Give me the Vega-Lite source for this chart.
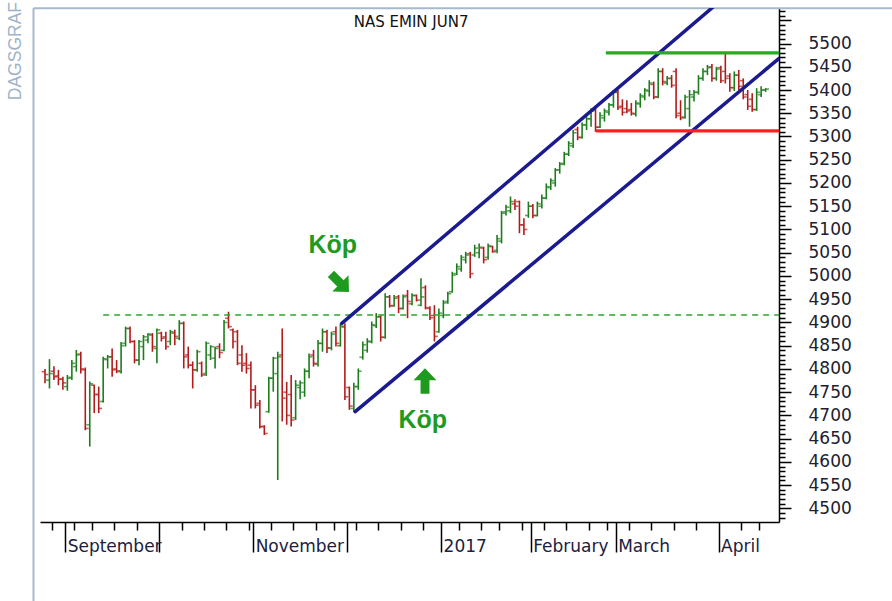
{
  "$schema": "https://vega.github.io/schema/vega-lite/v6.json",
  "width": 739,
  "height": 514,
  "autosize": {"type": "none"},
  "padding": {"left": 40, "top": 8, "right": 113, "bottom": 79},
  "background": "white",
  "config": {"view": {"stroke": null}, "font": "DejaVu Sans"},
  "title": {"text": "DAGSGRAF", "orient": "left", "anchor": "end", "color": "#9fb3c8", "fontSize": 17.5, "fontWeight": "normal", "font": "Liberation Sans", "offset": 8},
  "datasets": {
    "bars": [
      {"d":0,"o":4794,"h":4800,"l":4769,"c":4788},{"d":1,"o":4776,"h":4821,"l":4758,"c":4790},{"d":2,"o":4795,"h":4806,"l":4776,"c":4783},{"d":3,"o":4785,"h":4798,"l":4765,"c":4778},{"d":4,"o":4778,"h":4783,"l":4755,"c":4770},{"d":5,"o":4762,"h":4787,"l":4753,"c":4780},{"d":6,"o":4782,"h":4819,"l":4776,"c":4812},{"d":7,"o":4805,"h":4841,"l":4794,"c":4830},{"d":8,"o":4832,"h":4837,"l":4790,"c":4800},{"d":9,"o":4798,"h":4803,"l":4668,"c":4672},
      {"d":10,"o":4680,"h":4773,"l":4633,"c":4768},{"d":11,"o":4765,"h":4766,"l":4705,"c":4745},{"d":12,"o":4745,"h":4762,"l":4705,"c":4715},{"d":13,"o":4730,"h":4826,"l":4728,"c":4822},{"d":14,"o":4820,"h":4830,"l":4801,"c":4826},{"d":15,"o":4826,"h":4844,"l":4783,"c":4798},{"d":16,"o":4800,"h":4819,"l":4791,"c":4796},{"d":17,"o":4794,"h":4858,"l":4790,"c":4850},{"d":18,"o":4855,"h":4891,"l":4848,"c":4887},{"d":19,"o":4887,"h":4891,"l":4855,"c":4859},
      {"d":20,"o":4859,"h":4862,"l":4812,"c":4819},{"d":21,"o":4819,"h":4862,"l":4808,"c":4859},{"d":22,"o":4848,"h":4873,"l":4819,"c":4869},{"d":23,"o":4862,"h":4877,"l":4855,"c":4875},{"d":24,"o":4873,"h":4877,"l":4837,"c":4848},{"d":25,"o":4844,"h":4887,"l":4812,"c":4884},{"d":26,"o":4877,"h":4880,"l":4859,"c":4866},{"d":27,"o":4869,"h":4880,"l":4841,"c":4848},{"d":28,"o":4859,"h":4884,"l":4851,"c":4880},{"d":29,"o":4877,"h":4884,"l":4851,"c":4870},
      {"d":30,"o":4866,"h":4905,"l":4862,"c":4898},{"d":31,"o":4898,"h":4902,"l":4801,"c":4826},{"d":32,"o":4830,"h":4848,"l":4801,"c":4808},{"d":33,"o":4808,"h":4816,"l":4758,"c":4798},{"d":34,"o":4798,"h":4841,"l":4794,"c":4837},{"d":35,"o":4812,"h":4816,"l":4783,"c":4787},{"d":36,"o":4790,"h":4859,"l":4785,"c":4855},{"d":37,"o":4830,"h":4851,"l":4819,"c":4848},{"d":38,"o":4823,"h":4848,"l":4801,"c":4844},{"d":39,"o":4848,"h":4855,"l":4823,"c":4835},
      {"d":40,"o":4840,"h":4905,"l":4838,"c":4900},{"d":41,"o":4909,"h":4923,"l":4887,"c":4891},{"d":42,"o":4884,"h":4887,"l":4844,"c":4859},{"d":43,"o":4880,"h":4884,"l":4808,"c":4812},{"d":44,"o":4830,"h":4851,"l":4794,"c":4808},{"d":45,"o":4812,"h":4834,"l":4790,"c":4801},{"d":46,"o":4808,"h":4816,"l":4715,"c":4755},{"d":47,"o":4755,"h":4765,"l":4715,"c":4722},{"d":48,"o":4726,"h":4733,"l":4672,"c":4676},{"d":49,"o":4676,"h":4679,"l":4658,"c":4661},
      {"d":50,"o":4708,"h":4783,"l":4706,"c":4780},{"d":51,"o":4780,"h":4826,"l":4751,"c":4823},{"d":52,"o":4790,"h":4837,"l":4561,"c":4826},{"d":53,"o":4830,"h":4887,"l":4687,"c":4737},{"d":54,"o":4750,"h":4772,"l":4680,"c":4700},{"d":55,"o":4745,"h":4787,"l":4676,"c":4690},{"d":56,"o":4695,"h":4776,"l":4690,"c":4765},{"d":57,"o":4760,"h":4775,"l":4735,"c":4770},{"d":58,"o":4750,"h":4801,"l":4740,"c":4795},{"d":59,"o":4795,"h":4833,"l":4780,"c":4826},
      {"d":60,"o":4830,"h":4841,"l":4805,"c":4812},{"d":61,"o":4810,"h":4862,"l":4805,"c":4855},{"d":62,"o":4855,"h":4887,"l":4837,"c":4880},{"d":63,"o":4880,"h":4884,"l":4834,"c":4845},{"d":64,"o":4845,"h":4880,"l":4840,"c":4875},{"d":65,"o":4880,"h":4891,"l":4848,"c":4855},{"d":66,"o":4850,"h":4898,"l":4848,"c":4892},{"d":67,"o":4890,"h":4898,"l":4733,"c":4740},{"d":68,"o":4760,"h":4762,"l":4712,"c":4720},{"d":69,"o":4715,"h":4770,"l":4708,"c":4762},
      {"d":70,"o":4762,"h":4801,"l":4755,"c":4795},{"d":71,"o":4825,"h":4859,"l":4820,"c":4852},{"d":72,"o":4840,"h":4866,"l":4835,"c":4860},{"d":73,"o":4858,"h":4902,"l":4855,"c":4895},{"d":74,"o":4893,"h":4920,"l":4888,"c":4912},{"d":75,"o":4912,"h":4916,"l":4859,"c":4868},{"d":76,"o":4868,"h":4963,"l":4865,"c":4955},{"d":77,"o":4955,"h":4959,"l":4932,"c":4936},{"d":78,"o":4936,"h":4959,"l":4934,"c":4952},{"d":79,"o":4955,"h":4959,"l":4920,"c":4930},
      {"d":80,"o":4930,"h":4960,"l":4928,"c":4955},{"d":81,"o":4958,"h":4970,"l":4909,"c":4945},{"d":82,"o":4940,"h":4963,"l":4937,"c":4958},{"d":83,"o":4958,"h":4960,"l":4945,"c":4948},{"d":84,"o":4937,"h":4995,"l":4935,"c":4955},{"d":85,"o":4975,"h":4980,"l":4928,"c":4932},{"d":86,"o":4930,"h":4935,"l":4905,"c":4910},{"d":87,"o":4915,"h":4937,"l":4859,"c":4870},{"d":88,"o":4880,"h":4930,"l":4878,"c":4920},{"d":89,"o":4915,"h":4948,"l":4909,"c":4942},
      {"d":90,"o":4945,"h":4966,"l":4940,"c":4962},{"d":91,"o":4966,"h":5009,"l":4964,"c":5002},{"d":92,"o":5005,"h":5027,"l":5002,"c":5020},{"d":93,"o":5015,"h":5045,"l":5009,"c":5040},{"d":94,"o":5035,"h":5052,"l":5027,"c":5045},{"d":95,"o":5048,"h":5052,"l":4995,"c":5005},{"d":96,"o":5045,"h":5067,"l":5041,"c":5060},{"d":97,"o":5050,"h":5070,"l":5038,"c":5062},{"d":98,"o":5060,"h":5063,"l":5027,"c":5035},{"d":99,"o":5040,"h":5070,"l":5035,"c":5065},
      {"d":100,"o":5063,"h":5065,"l":5050,"c":5052},{"d":101,"o":5055,"h":5088,"l":5049,"c":5080},{"d":102,"o":5075,"h":5140,"l":5070,"c":5135},{"d":103,"o":5138,"h":5153,"l":5130,"c":5148},{"d":104,"o":5140,"h":5171,"l":5135,"c":5160},{"d":105,"o":5155,"h":5165,"l":5142,"c":5150},{"d":106,"o":5160,"h":5162,"l":5092,"c":5110},{"d":107,"o":5110,"h":5124,"l":5088,"c":5100},{"d":108,"o":5130,"h":5160,"l":5125,"c":5150},{"d":109,"o":5150,"h":5155,"l":5124,"c":5130},
      {"d":110,"o":5130,"h":5160,"l":5128,"c":5155},{"d":111,"o":5150,"h":5175,"l":5145,"c":5168},{"d":112,"o":5167,"h":5199,"l":5165,"c":5192},{"d":113,"o":5190,"h":5210,"l":5185,"c":5205},{"d":114,"o":5200,"h":5232,"l":5192,"c":5228},{"d":115,"o":5228,"h":5245,"l":5220,"c":5240},{"d":116,"o":5242,"h":5267,"l":5238,"c":5262},{"d":117,"o":5262,"h":5290,"l":5258,"c":5285},{"d":118,"o":5280,"h":5314,"l":5275,"c":5308},{"d":119,"o":5315,"h":5321,"l":5292,"c":5298},
      {"d":120,"o":5298,"h":5330,"l":5295,"c":5325},{"d":121,"o":5325,"h":5343,"l":5314,"c":5338},{"d":122,"o":5338,"h":5361,"l":5321,"c":5355},{"d":123,"o":5357,"h":5361,"l":5310,"c":5320},{"d":124,"o":5320,"h":5352,"l":5318,"c":5345},{"d":125,"o":5340,"h":5360,"l":5332,"c":5355},{"d":126,"o":5352,"h":5372,"l":5345,"c":5368},{"d":127,"o":5368,"h":5400,"l":5362,"c":5395},{"d":128,"o":5395,"h":5400,"l":5357,"c":5362},{"d":129,"o":5365,"h":5380,"l":5345,"c":5352},
      {"d":130,"o":5360,"h":5378,"l":5350,"c":5355},{"d":131,"o":5358,"h":5372,"l":5345,"c":5350},{"d":132,"o":5348,"h":5378,"l":5343,"c":5372},{"d":133,"o":5370,"h":5393,"l":5362,"c":5388},{"d":134,"o":5385,"h":5404,"l":5378,"c":5400},{"d":135,"o":5398,"h":5421,"l":5386,"c":5415},{"d":136,"o":5412,"h":5418,"l":5380,"c":5385},{"d":137,"o":5385,"h":5447,"l":5382,"c":5440},{"d":138,"o":5440,"h":5447,"l":5410,"c":5418},{"d":139,"o":5415,"h":5430,"l":5410,"c":5425},
      {"d":140,"o":5425,"h":5432,"l":5405,"c":5410},{"d":141,"o":5440,"h":5447,"l":5339,"c":5345},{"d":142,"o":5350,"h":5378,"l":5335,"c":5340},{"d":143,"o":5342,"h":5390,"l":5338,"c":5385},{"d":144,"o":5360,"h":5400,"l":5321,"c":5390},{"d":145,"o":5385,"h":5400,"l":5375,"c":5395},{"d":146,"o":5395,"h":5432,"l":5390,"c":5425},{"d":147,"o":5425,"h":5447,"l":5420,"c":5440},{"d":148,"o":5440,"h":5454,"l":5432,"c":5448},{"d":149,"o":5450,"h":5456,"l":5418,"c":5425},
      {"d":150,"o":5425,"h":5450,"l":5420,"c":5445},{"d":151,"o":5448,"h":5452,"l":5415,"c":5420},{"d":152,"o":5440,"h":5479,"l":5414,"c":5425},{"d":153,"o":5430,"h":5436,"l":5396,"c":5405},{"d":154,"o":5405,"h":5440,"l":5398,"c":5432},{"d":155,"o":5432,"h":5443,"l":5400,"c":5408},{"d":156,"o":5420,"h":5425,"l":5380,"c":5385},{"d":157,"o":5390,"h":5400,"l":5357,"c":5365},{"d":158,"o":5380,"h":5393,"l":5353,"c":5358},{"d":159,"o":5358,"h":5404,"l":5355,"c":5395},
      {"d":160,"o":5390,"h":5408,"l":5385,"c":5400},{"d":161,"o":5400,"h":5404,"l":5396,"c":5402}
    ],
    "channel": [
      {"line": "upper", "d1": 66.3, "v1": 4898, "d2": 152, "v2": 5601},
      {"line": "lower", "d1": 69.3, "v1": 4708, "d2": 164, "v2": 5468}
    ],
    "levels": [
      {"name": "resistance", "d1": 125.3, "d2": 164, "v": 5480},
      {"name": "support", "d1": 123.1, "d2": 164, "v": 5312}
    ],
    "breakout": [{"d1": 13, "d2": 164, "v": 4916}],
    "notes": [
      {"label": "Köp", "d": 64.3, "v": 5066},
      {"label": "Köp", "d": 84.4, "v": 4690}
    ],
    "arrows": [
      {"dir": "down-right", "d": 65.9, "v": 4985},
      {"dir": "up", "d": 84.9, "v": 4774}
    ]
  },
  "layer": [
    {
      "data": {"name": "bars"},
      "mark": {"type": "rule", "strokeWidth": 1.6},
      "encoding": {
        "x": {"field": "d", "type": "quantitative", "scale": {"domain": [-1.117, 163.99], "nice": false, "zero": false},
          "axis": {
            "title": null, "orient": "bottom", "grid": false, "tickCount": 500,
            "values": [1.5,4.5,6.5,10.5,15.5,20.5,25.5,30.5,35.5,40.5,45.5,46.5,50.5,55.5,60.5,64.5,67.5,69.5,74.5,79.5,84.5,88.5,92.5,97.5,101.5,106.5,108.5,111.5,116.5,121.5,125.5,127.5,130.5,135.5,140.5,145.5,150.5,155.5,159.5],
            "domainColor": "#000000", "domainWidth": 1.5, "tickColor": "#000000", "tickWidth": 1.5,
            "tickSize": {"condition": {"test": "indexof([4.5,25.5,46.5,67.5,88.5,108.5,127.5,150.5], datum.value) >= 0", "value": 30}, "value": 8},
            "labelExpr": "datum.value == 4.5 ? 'September' : datum.value == 46.5 ? 'November' : datum.value == 88.5 ? '2017' : datum.value == 108.5 ? 'February' : datum.value == 127.5 ? 'March' : datum.value == 150.5 ? 'April' : ''",
            "labelAlign": "left", "labelBaseline": "top", "labelPadding": -14, "labelOffset": 2,
            "labelFont": "DejaVu Sans", "labelFontSize": 17, "labelColor": "#202040",
            "labelOverlap": false, "labelBound": false, "labelFlush": false
          }
        },
        "y": {"field": "l", "type": "quantitative", "scale": {"domain": [4470.7, 5576.4], "nice": false, "zero": false},
          "axis": {
            "title": null, "orient": "right", "grid": false, "format": "d", "tickCount": 500,
            "values": [4480,4490,4500,4510,4520,4530,4540,4550,4560,4570,4580,4590,4600,4610,4620,4630,4640,4650,4660,4670,4680,4690,4700,4710,4720,4730,4740,4750,4760,4770,4780,4790,4800,4810,4820,4830,4840,4850,4860,4870,4880,4890,4900,4910,4920,4930,4940,4950,4960,4970,4980,4990,5000,5010,5020,5030,5040,5050,5060,5070,5080,5090,5100,5110,5120,5130,5140,5150,5160,5170,5180,5190,5200,5210,5220,5230,5240,5250,5260,5270,5280,5290,5300,5310,5320,5330,5340,5350,5360,5370,5380,5390,5400,5410,5420,5430,5440,5450,5460,5470,5480,5490,5500,5510,5520,5530,5540,5550,5560,5570],
            "labelExpr": "datum.value % 50 === 0 && datum.value <= 5500 ? datum.label : ''",
            "domainColor": "#000000", "domainWidth": 1.5, "tickColor": "#000000", "tickWidth": 1.5,
            "tickSize": {"condition": {"test": "datum.value % 50 === 0", "value": 12}, "value": 6},
            "labelPadding": 17, "labelFont": "DejaVu Sans", "labelFontSize": 17, "labelColor": "#202030",
            "labelOverlap": false, "labelBound": false, "labelFlush": false
          }
        },
        "y2": {"field": "h"},
        "color": {"condition": {"test": "datum.c >= datum.o", "value": "#1d7d1d"}, "value": "#b31b1b"}
      }
    },
    {
      "data": {"name": "bars"},
      "mark": {"type": "tick", "orient": "horizontal", "xOffset": -1.7, "size": 3.4, "thickness": 1.6},
      "encoding": {
        "x": {"field": "d", "type": "quantitative", "scale": {"domain": [-1.117, 163.99], "nice": false, "zero": false}},
        "y": {"field": "o", "type": "quantitative", "scale": {"domain": [4470.7, 5576.4], "nice": false, "zero": false}},
        "color": {"condition": {"test": "datum.c >= datum.o", "value": "#1d7d1d"}, "value": "#b31b1b"}
      }
    },
    {
      "data": {"name": "bars"},
      "mark": {"type": "tick", "orient": "horizontal", "xOffset": 1.7, "size": 3.4, "thickness": 1.6},
      "encoding": {
        "x": {"field": "d", "type": "quantitative", "scale": {"domain": [-1.117, 163.99], "nice": false, "zero": false}},
        "y": {"field": "c", "type": "quantitative", "scale": {"domain": [4470.7, 5576.4], "nice": false, "zero": false}},
        "color": {"condition": {"test": "datum.c >= datum.o", "value": "#1d7d1d"}, "value": "#b31b1b"}
      }
    },
    {
      "data": {"values": [{"frame": "left"}]},
      "mark": {"type": "rule", "color": "#a7bacd", "strokeWidth": 2},
      "encoding": {
        "x": {"datum": -2.57, "type": "quantitative", "scale": {"domain": [-1.117, 163.99], "nice": false, "zero": false}},
        "y": {"datum": 5576, "type": "quantitative", "scale": {"domain": [4470.7, 5576.4], "nice": false, "zero": false}},
        "y2": {"datum": 4290}
      }
    },
    {
      "data": {"values": [{"frame": "top"}]},
      "mark": {"type": "rule", "color": "#a7bacd", "strokeWidth": 2},
      "encoding": {
        "x": {"datum": -2.57, "type": "quantitative", "scale": {"domain": [-1.117, 163.99], "nice": false, "zero": false}},
        "x2": {"datum": 190},
        "y": {"datum": 5576, "type": "quantitative", "scale": {"domain": [4470.7, 5576.4], "nice": false, "zero": false}}
      }
    },
    {
      "data": {"name": "breakout"},
      "mark": {"type": "rule", "color": "#2aa52a", "strokeWidth": 1.5, "strokeDash": [6, 5], "clip": true},
      "encoding": {
        "x": {"field": "d1", "type": "quantitative", "scale": {"domain": [-1.117, 163.99], "nice": false, "zero": false}},
        "x2": {"field": "d2"},
        "y": {"field": "v", "type": "quantitative", "scale": {"domain": [4470.7, 5576.4], "nice": false, "zero": false}}
      }
    },
    {
      "data": {"name": "channel"},
      "mark": {"type": "rule", "color": "#1b1b8f", "strokeWidth": 3.5, "clip": true, "strokeCap": "round"},
      "encoding": {
        "x": {"field": "d1", "type": "quantitative", "scale": {"domain": [-1.117, 163.99], "nice": false, "zero": false}},
        "x2": {"field": "d2"},
        "y": {"field": "v1", "type": "quantitative", "scale": {"domain": [4470.7, 5576.4], "nice": false, "zero": false}},
        "y2": {"field": "v2"}
      }
    },
    {
      "data": {"name": "levels"},
      "mark": {"type": "rule", "strokeWidth": 3.2, "clip": true},
      "encoding": {
        "x": {"field": "d1", "type": "quantitative", "scale": {"domain": [-1.117, 163.99], "nice": false, "zero": false}},
        "x2": {"field": "d2"},
        "y": {"field": "v", "type": "quantitative", "scale": {"domain": [4470.7, 5576.4], "nice": false, "zero": false}},
        "color": {"condition": {"test": "datum.name == 'resistance'", "value": "#1fae1f"}, "value": "#ff1f1f"}
      }
    },
    {
      "data": {"name": "notes"},
      "mark": {"type": "text", "font": "Liberation Sans", "fontSize": 25, "fontWeight": "bold", "color": "#1e9b1e", "align": "center", "baseline": "middle"},
      "encoding": {
        "x": {"field": "d", "type": "quantitative", "scale": {"domain": [-1.117, 163.99], "nice": false, "zero": false}},
        "y": {"field": "v", "type": "quantitative", "scale": {"domain": [4470.7, 5576.4], "nice": false, "zero": false}},
        "text": {"field": "label"}
      }
    },
    {
      "data": {"name": "arrows"},
      "transform": [{"filter": "datum.dir == 'up'"}],
      "mark": {"type": "point", "shape": "M0,-1L0.9,-0.05L0.35,-0.05L0.35,1L-0.35,1L-0.35,-0.05L-0.9,-0.05Z", "filled": true, "size": 650, "color": "#1e9b1e", "opacity": 1, "angle": 0},
      "encoding": {
        "x": {"field": "d", "type": "quantitative", "scale": {"domain": [-1.117, 163.99], "nice": false, "zero": false}},
        "y": {"field": "v", "type": "quantitative", "scale": {"domain": [4470.7, 5576.4], "nice": false, "zero": false}}
      }
    },
    {
      "data": {"name": "arrows"},
      "transform": [{"filter": "datum.dir == 'down-right'"}],
      "mark": {"type": "point", "shape": "M0,-1L0.9,-0.05L0.35,-0.05L0.35,1L-0.35,1L-0.35,-0.05L-0.9,-0.05Z", "filled": true, "size": 650, "color": "#1e9b1e", "opacity": 1, "angle": 135},
      "encoding": {
        "x": {"field": "d", "type": "quantitative", "scale": {"domain": [-1.117, 163.99], "nice": false, "zero": false}},
        "y": {"field": "v", "type": "quantitative", "scale": {"domain": [4470.7, 5576.4], "nice": false, "zero": false}}
      }
    },
    {
      "data": {"values": [{"t": "NAS EMIN JUN7"}]},
      "mark": {"type": "text", "font": "DejaVu Sans", "fontSize": 15, "color": "#111111", "align": "center", "baseline": "middle"},
      "encoding": {
        "x": {"datum": 81.8, "type": "quantitative", "scale": {"domain": [-1.117, 163.99], "nice": false, "zero": false}},
        "y": {"datum": 5546, "type": "quantitative", "scale": {"domain": [4470.7, 5576.4], "nice": false, "zero": false}},
        "text": {"field": "t"}
      }
    }
  ]
}
